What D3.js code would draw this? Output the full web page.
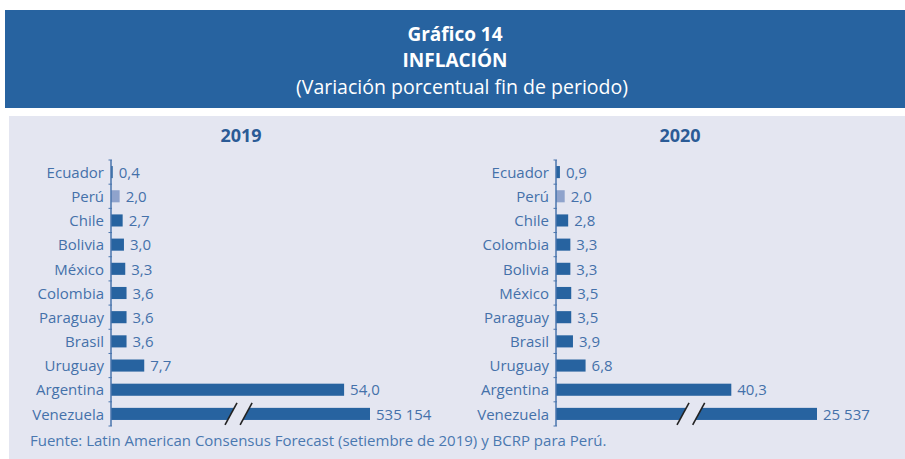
<!DOCTYPE html>
<html>
<head>
<meta charset="utf-8">
<script src="https://cdn.jsdelivr.net/npm/d3@7"></script>
<style>
  body { margin: 0; background: #fff; }
  svg text { font-family: "Open Sans", "Noto Sans", sans-serif; }
</style>
</head>
<body>
<div id="chart"></div>
<script>
// data
var cats2019 = ["Ecuador","Perú","Chile","Bolivia","México","Colombia","Paraguay","Brasil","Uruguay","Argentina","Venezuela"]
var vals2019 = [0.4, 2.0, 2.7, 3.0, 3.3, 3.6, 3.6, 3.6, 7.7, 54.0, 535154]
var cats2020 = ["Ecuador","Perú","Chile","Colombia","Bolivia","México","Paraguay","Brasil","Uruguay","Argentina","Venezuela"]
var vals2020 = [0.9, 2.0, 2.8, 3.3, 3.3, 3.5, 3.5, 3.9, 6.8, 40.3, 25537]
var years = ["2019", "2020"]

var W = 905, H = 459
var blue = "#2763a0", peru = "#8fa3cc", txt = "#4471aa", bg = "#e4e6f1"

var svg = d3.select("#chart").append("svg").attr("width", W).attr("height", H)

svg.append("rect").attr("x", 5).attr("y", 10).attr("width", W - 5).attr("height", 98).attr("fill", "#2763a0")
svg.append("rect").attr("x", 9).attr("y", 116).attr("width", W - 9).attr("height", H - 116).attr("fill", bg)

svg.append("text").attr("x", 455).attr("y", 41).attr("text-anchor", "middle")
  .attr("fill", "#fff").attr("font-size", 19).attr("font-weight", "bold").text("Gráfico 14")
svg.append("text").attr("x", 455).attr("y", 67).attr("text-anchor", "middle")
  .attr("fill", "#fff").attr("font-size", 19).attr("font-weight", "bold").text("INFLACIÓN")
svg.append("text").attr("x", 462).attr("y", 94).attr("text-anchor", "middle")
  .attr("fill", "#fff").attr("font-size", 19.5).text("(Variación porcentual fin de periodo)")

function fmt(v) {
  if (v >= 1000) return d3.format(",")(v).replace(/,/g, " ")
  return d3.format(".1f")(v).replace(".", ",")
}

function panel(cats, vals, year, x0, x1, brk, titleX) {
  var g = svg.append("g")
  var cap = 60
  var x = d3.scaleLinear().domain([0, cap]).range([x0, x1])
  var y = d3.scaleBand().domain(cats).range([160, 426]).paddingInner(0.5).paddingOuter(0.25)

  g.append("text").attr("x", titleX).attr("y", 142).attr("text-anchor", "middle")
    .attr("fill", "#2b5b96").attr("font-size", 18).attr("font-weight", "bold").text(year)

  var rows = cats.map(function(c, i) { return {cat: c, value: vals[i]} })

  g.selectAll(".bar").data(rows).enter().append("rect")
    .attr("class", "bar")
    .attr("x", x(0))
    .attr("y", function(d) { return y(d.cat) })
    .attr("width", function(d) { return x(Math.min(d.value, cap)) - x(0) })
    .attr("height", y.bandwidth())
    .attr("fill", function(d) { return d.cat == "Perú" ? peru : blue })

  g.selectAll(".val").data(rows).enter().append("text")
    .attr("class", "val")
    .attr("x", function(d) { return x(Math.min(d.value, cap)) + 6 })
    .attr("y", function(d) { return y(d.cat) + y.bandwidth() / 2 })
    .attr("dy", "0.38em")
    .attr("fill", txt).attr("font-size", 15)
    .text(function(d) { return fmt(d.value) })

  // axis line with ticks at band boundaries
  g.append("line").attr("x1", x(0)).attr("x2", x(0)).attr("y1", 160).attr("y2", 426)
    .attr("stroke", "#4a75ad").attr("stroke-width", 1.5)
  var bounds = d3.range(cats.length + 1).map(function(i) { return 160 + i * y.step() })
  g.selectAll(".tk").data(bounds).enter().append("line")
    .attr("x1", x(0) - 2.5).attr("x2", x(0) + 1).attr("y1", function(d) { return d }).attr("y2", function(d) { return d })
    .attr("stroke", "#4a75ad").attr("stroke-width", 1)

  g.selectAll(".cat").data(cats).enter().append("text")
    .attr("x", x(0) - 7)
    .attr("y", function(d) { return y(d) + y.bandwidth() / 2 })
    .attr("dy", "0.38em").attr("text-anchor", "end")
    .attr("fill", txt).attr("font-size", 15)
    .text(function(d) { return d })

  // axis break on the Venezuela bar
  var vy = y("Venezuela"), bh = y.bandwidth()
  var a = x(brk[0]), b = x(brk[1]), s = 4
  g.append("polygon")
    .attr("points", [[a - s, vy + bh + 1], [a + s, vy - 1], [b + s, vy - 1], [b - s, vy + bh + 1]].join(" "))
    .attr("fill", bg)
  ;[a, b].forEach(function(p) {
    g.append("line").attr("x1", p - 6).attr("y1", vy + bh + 5).attr("x2", p + 6).attr("y2", vy - 5)
      .attr("stroke", "#222").attr("stroke-width", 1.6)
  })
}

panel(cats2019, vals2019, years[0], 111, 370, [27.8, 31.3], 241)
panel(cats2020, vals2020, years[1], 556, 817, [29.2, 32.8], 680)

svg.append("text").attr("x", 30).attr("y", 446).attr("fill", "#4a78b0").attr("font-size", 15)
  .text("Fuente: Latin American Consensus Forecast (setiembre de 2019) y BCRP para Perú.")
</script>
</body>
</html>
